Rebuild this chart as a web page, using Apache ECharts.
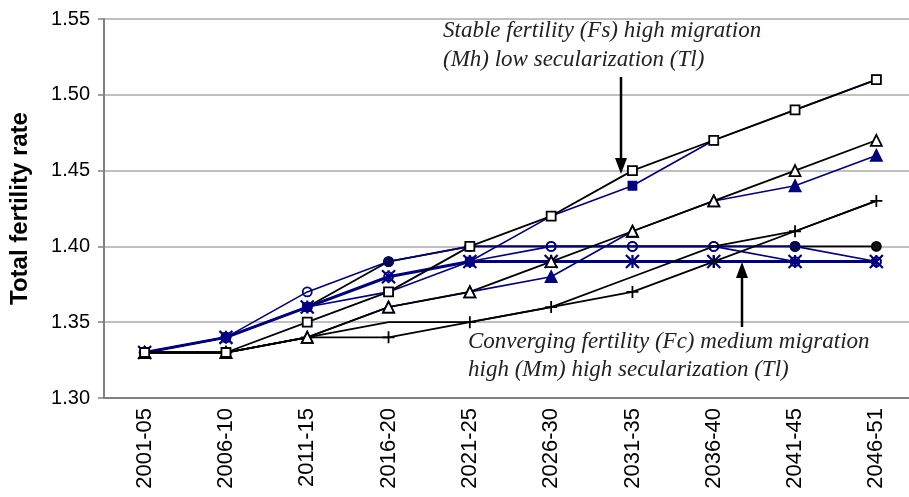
<!DOCTYPE html>
<html>
<head>
<meta charset="utf-8">
<script src="https://cdn.jsdelivr.net/npm/echarts@6/dist/echarts.min.js"></script>
<style>
  html, body { margin: 0; padding: 0; background: #fff; overflow: hidden; }
  #chart { width: 917px; height: 497px; }
</style>
</head>
<body>
<div id="chart"></div>
<script>
// periods on the x axis
const periods = ['2001-05', '2006-10', '2011-15', '2016-20', '2021-25', '2026-30', '2031-35', '2036-40', '2041-45', '2046-51'];
const yTicks = [1.30, 1.35, 1.40, 1.45, 1.50, 1.55];

// black scenarios
const fsMhTl = [1.33, 1.33, 1.35, 1.37, 1.40, 1.42, 1.45, 1.47, 1.49, 1.51];      // open square
const openTriangle = [1.33, 1.33, 1.34, 1.36, 1.37, 1.39, 1.41, 1.43, 1.45, 1.47]; // open triangle
const plusLine = [1.33, 1.33, 1.34, 1.34, 1.35, 1.36, 1.37, 1.39, 1.41, 1.43];     // plus
const plainLine = [1.33, 1.33, 1.34, 1.35, 1.35, 1.36, 1.38, 1.40, 1.41, 1.43];    // no marker
const blackDot = [1.33, 1.34, 1.36, 1.39, 1.40, 1.40, 1.40, 1.40, 1.40, 1.40];     // filled circle

// blue scenarios
const blueSquare = [1.33, 1.34, 1.36, 1.37, 1.39, 1.42, 1.44, 1.47, 1.49, 1.51];
const blueTriangle = [1.33, 1.33, 1.34, 1.36, 1.37, 1.38, 1.41, 1.43, 1.44, 1.46];
const blueCircle = [1.33, 1.34, 1.37, 1.39, 1.40, 1.40, 1.40, 1.40, 1.40, 1.39];
const blueCircle2 = [1.33, 1.34, 1.36, 1.38, 1.39, 1.40, 1.40, 1.40, 1.39, 1.39];
const fcMmTh = [1.33, 1.34, 1.36, 1.38, 1.39, 1.39, 1.39, 1.39, 1.39, 1.39];       // asterisk

const NAVY = '#000080';
const STAR = 'path://M5,0L5,10M0,0L10,10M0,10L10,0';
const PLUS = 'path://M5,0L5,10M0,5L10,5';

function line(name, data, color, symbol, size, fill, z, width, border) {
  return {
    name: name,
    type: 'line',
    data: data,
    z: z,
    symbol: symbol,
    symbolSize: size,
    showAllSymbol: true,
    animation: false,
    lineStyle: { color: color, width: width || 1.8 },
    itemStyle: { color: fill, borderColor: color, borderWidth: border || 1.8 },
    emphasis: { disabled: true }
  };
}

// the black dot is hidden where blue circles sit on top of it
const dotHidden = [5, 6, 7];
const dotSeries = line('blackDot', blackDot.map(function (v, i) {
  return dotHidden.indexOf(i) >= 0 ? { value: v, symbol: 'none' } : v;
}), '#000', 'circle', 9, '#111', 2);

const myChart = echarts.init(document.getElementById('chart'));
myChart.setOption({
  backgroundColor: '#fff',
  animation: false,
  grid: { left: 104, right: 0, top: 19, bottom: 99 },
  xAxis: {
    type: 'category',
    data: periods,
    boundaryGap: true,
    axisLine: { lineStyle: { color: '#808080', width: 2 } },
    axisTick: { length: 8, lineStyle: { color: '#808080', width: 1.5 } },
    axisLabel: {
      rotate: 90,
      margin: 10,
      color: '#000',
      fontFamily: 'Liberation Sans',
      fontSize: 22
    }
  },
  yAxis: {
    type: 'value',
    min: yTicks[0],
    max: yTicks[yTicks.length - 1],
    interval: 0.05,
    name: 'Total fertility rate',
    nameLocation: 'middle',
    nameGap: 72,
    nameRotate: 90,
    nameTextStyle: { color: '#000', fontFamily: 'Liberation Sans', fontWeight: 'bold', fontSize: 24 },
    axisLine: { show: true, lineStyle: { color: '#808080', width: 2 } },
    axisTick: { show: true, length: 6, lineStyle: { color: '#808080', width: 1.5 } },
    axisLabel: {
      margin: 14,
      color: '#000',
      fontFamily: 'Liberation Sans',
      fontSize: 20,
      formatter: function (v) { return v.toFixed(2); }
    },
    splitLine: { lineStyle: { color: '#c0c0c0', width: 2 } }
  },
  series: [
    dotSeries,
    line('blueCircle2', blueCircle2, NAVY, 'circle', 9, 'rgba(255,255,255,0)', 3, 1.6),
    line('blueCircle', blueCircle, NAVY, 'circle', 9, 'rgba(255,255,255,0)', 3, 1.6),
    line('blueTriangle', blueTriangle, NAVY, 'triangle', 11, NAVY, 3, 1.6),
    line('blueSquare', blueSquare, NAVY, 'rect', 8, NAVY, 3, 1.6),
    line('Fc Mm Th', fcMmTh, NAVY, STAR, 13, NAVY, 4, 3, 2.2),
    line('plain', plainLine, '#000', 'none', 0, '#000', 5),
    line('plus', plusLine, '#000', PLUS, 12, 'none', 5),
    line('openTriangle', openTriangle, '#000', 'triangle', 11, '#fff', 5),
    line('Fs Mh Tl', fsMhTl, '#000', 'rect', 9, '#fff', 6)
  ],
  graphic: [
    { type: 'text', x: 443, y: 31, z: 10, style: { text: 'Stable fertility (Fs) high migration', font: 'italic 23px "Liberation Serif"', fill: '#222', align: 'left', verticalAlign: 'middle' } },
    { type: 'text', x: 443, y: 60, z: 10, style: { text: '(Mh) low secularization (Tl)', font: 'italic 23px "Liberation Serif"', fill: '#222', align: 'left', verticalAlign: 'middle' } },
    { type: 'line', z: 10, shape: { x1: 621, y1: 77, x2: 621, y2: 162 }, style: { stroke: '#000', lineWidth: 2.5 } },
    { type: 'polygon', z: 10, shape: { points: [[615, 158], [627, 158], [621, 174]] }, style: { fill: '#000' } },
    { type: 'text', x: 468, y: 342, z: 10, style: { text: 'Converging fertility (Fc) medium migration', font: 'italic 23px "Liberation Serif"', fill: '#222', align: 'left', verticalAlign: 'middle' } },
    { type: 'text', x: 468, y: 370, z: 10, style: { text: 'high (Mm) high secularization (Tl)', font: 'italic 23px "Liberation Serif"', fill: '#222', align: 'left', verticalAlign: 'middle' } },
    { type: 'line', z: 10, shape: { x1: 742, y1: 327, x2: 742, y2: 274 }, style: { stroke: '#000', lineWidth: 2.5 } },
    { type: 'polygon', z: 10, shape: { points: [[736, 278], [748, 278], [742, 262]] }, style: { fill: '#000' } }
  ]
});
</script>
</body>
</html>
